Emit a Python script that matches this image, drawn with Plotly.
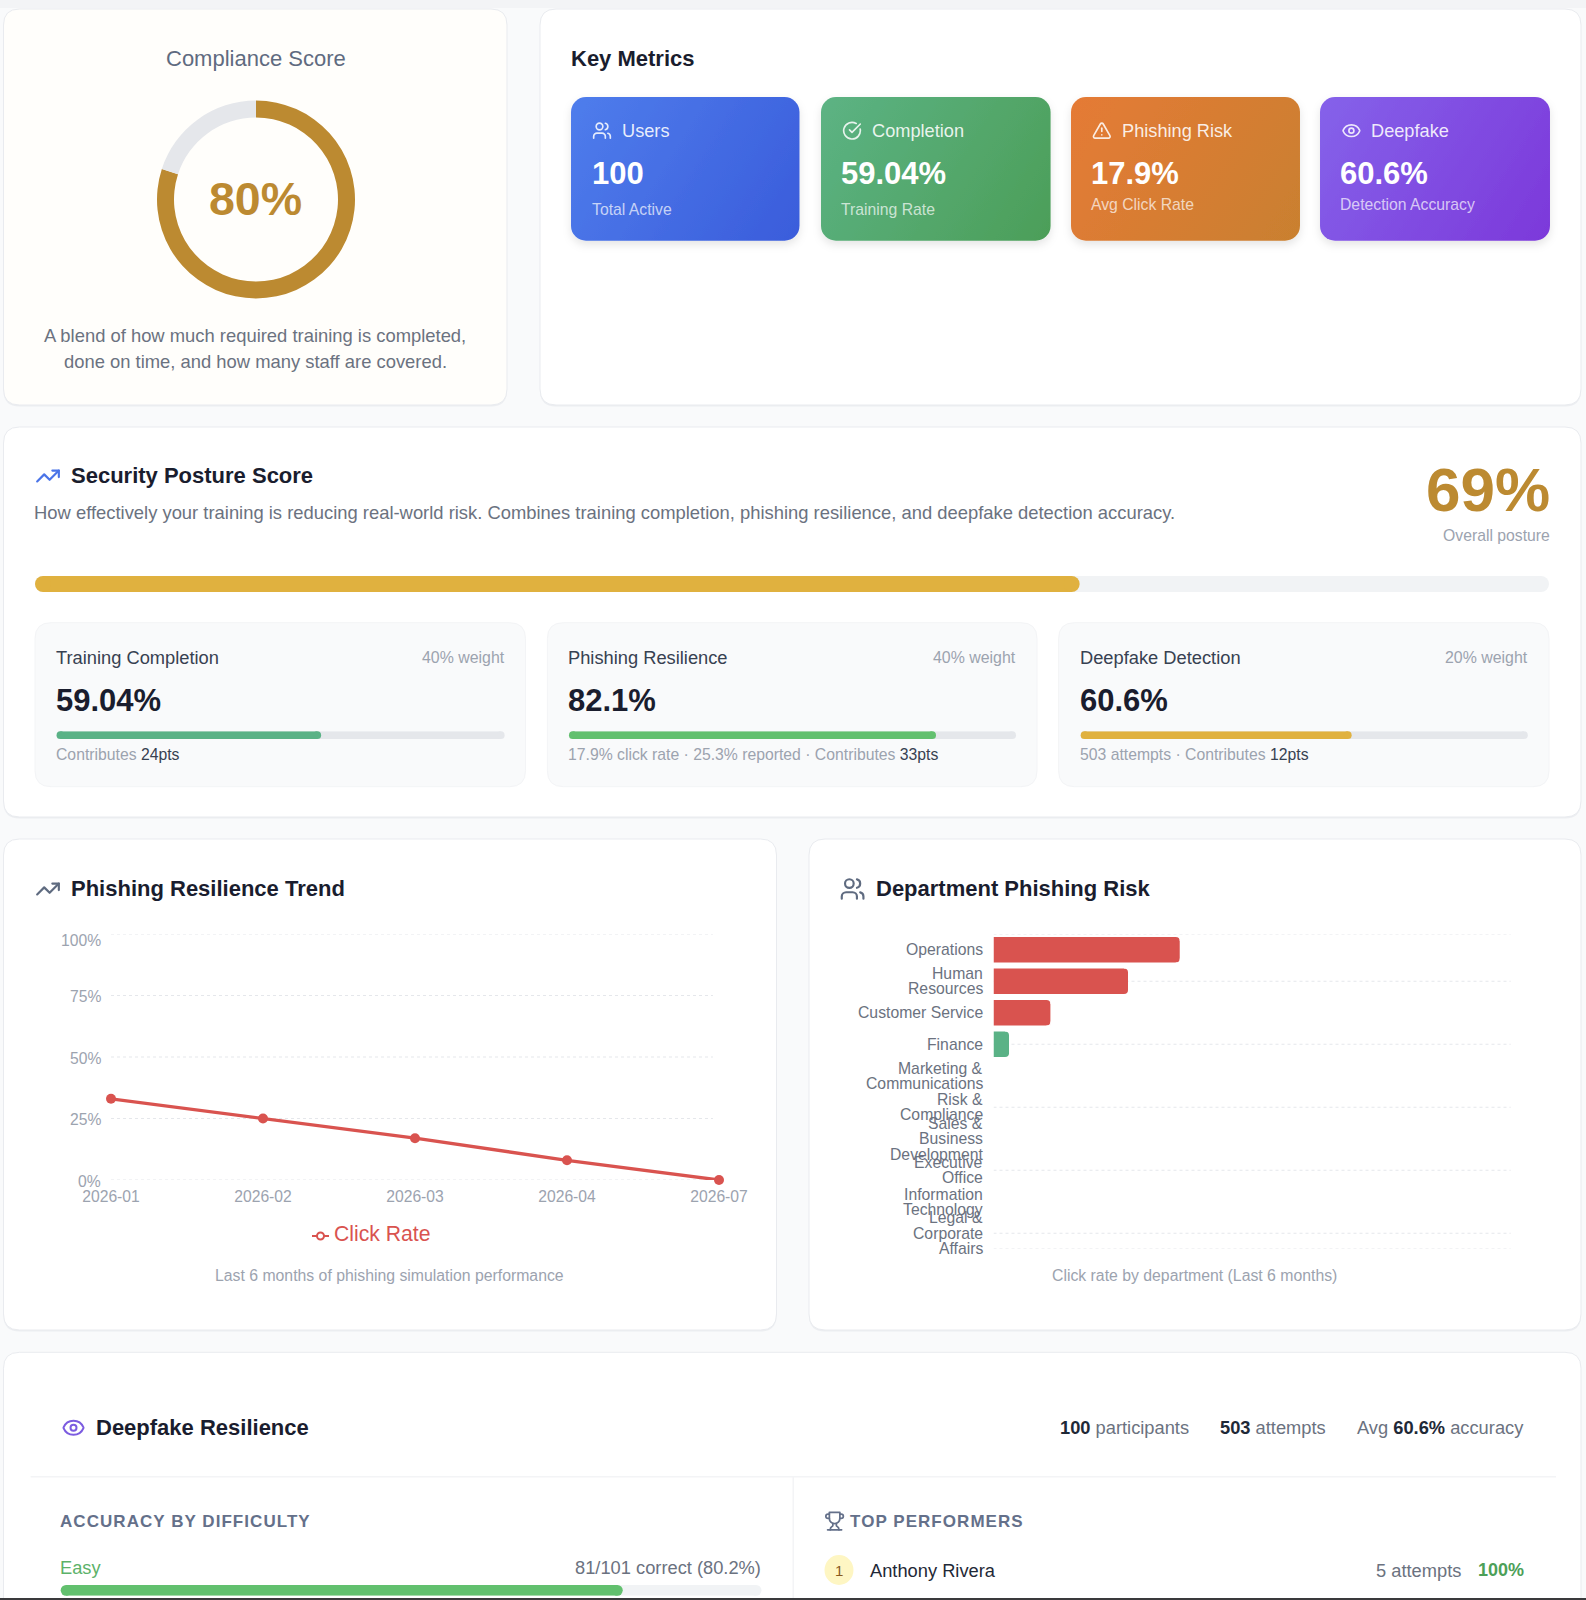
import base64
import plotly.graph_objects as go

W, H = 1586, 1600

# ---------- data ----------
compliance_labels = ["Compliant", "Gap"]
compliance_values = [80, 20]
posture_score = 69
posture_parts = [59.04, 82.1, 60.6]
months = ["2026-01", "2026-02", "2026-03", "2026-04", "2026-07"]
click_rate = [33, 25, 17, 8, 0]
y_ticks = [0, 25, 50, 75, 100]
y_tick_labels = ["0%", "25%", "50%", "75%", "100%"]
y_tick_shift = [-1, -1, -1, -1, -6]
departments = ["Operations", "Human<br>Resources", "Customer Service", "Finance",
               "Marketing &<br>Communications", "Risk &<br>Compliance",
               "Sales &<br>Business<br>Development", "Executive<br>Office",
               "Information<br>Technology", "Legal &<br>Corporate<br>Affairs"]
dept_click_rate = [36, 26, 11, 3, 0, 0, 0, 0, 0, 0]
dept_colors = ["#D9534F", "#D9534F", "#D9534F", "#5AB286", "#5AB286", "#5AB286",
               "#5AB286", "#5AB286", "#5AB286", "#5AB286"]
dept_grid_index = [1, 3, 5, 7, 9]
easy_accuracy = 80.2

# ---------- helpers ----------
FONT = "Liberation Sans"
RED, GOLD, AMBER = "#D9534F", "#BC8A31", "#E0B13F"
INK, BODY, MUTED = "#1A1D2E", "#6B7280", "#9CA3AF"
SMALL, MID = 15.75, 18.3

def px(x):
    return x / W

def py(y):
    return 1 - y / H

shapes, images, annotations = [], [], []

def rrect(x0, y0, x1, y1, r):
    pts = [
        f"M {px(x0 + r)} {py(y0)}", f"L {px(x1 - r)} {py(y0)}",
        f"Q {px(x1)} {py(y0)} {px(x1)} {py(y0 + r)}", f"L {px(x1)} {py(y1 - r)}",
        f"Q {px(x1)} {py(y1)} {px(x1 - r)} {py(y1)}", f"L {px(x0 + r)} {py(y1)}",
        f"Q {px(x0)} {py(y1)} {px(x0)} {py(y1 - r)}", f"L {px(x0)} {py(y0 + r)}",
        f"Q {px(x0)} {py(y0)} {px(x0 + r)} {py(y0)}", "Z",
    ]
    return " ".join(pts)

def card(x0, y0, x1, y1, fill="#FFFFFF", line="#E9EBEF", r=16, shadow=True):
    if shadow:
        shapes.append(dict(type="path", xref="paper", yref="paper", layer="below",
                           path=rrect(x0, y0 + 1.5, x1, y1 + 1.5, r),
                           fillcolor="#ECEEF1", line=dict(width=0)))
    shapes.append(dict(type="path", xref="paper", yref="paper", layer="below",
                       path=rrect(x0, y0, x1, y1, r), fillcolor=fill,
                       line=dict(color=line, width=1)))

def rect(x0, y0, x1, y1, fill):
    shapes.append(dict(type="rect", xref="paper", yref="paper", layer="below",
                       x0=px(x0), x1=px(x1), y0=py(y0), y1=py(y1),
                       fillcolor=fill, line=dict(width=0)))

def txt(x, y, text, size, color, anchor="left", bold=False):
    if anchor == "left":
        x -= 0.7
    annotations.append(dict(
        x=px(x), y=py(y), xref="paper", yref="paper", text=f"<b>{text}</b>" if bold else text,
        showarrow=False, xanchor=anchor, yanchor="middle", borderpad=0, borderwidth=0,
        font=dict(family=FONT, size=size, color=color), align=anchor))

def svg_image(svg, x0, y0, x1, y1):
    uri = "data:image/svg+xml;base64," + base64.b64encode(svg.encode()).decode()
    images.append(dict(source=uri, xref="paper", yref="paper", x=px(x0), y=py(y0),
                       sizex=px(x1) - px(x0), sizey=py(y0) - py(y1),
                       xanchor="left", yanchor="top", sizing="stretch", layer="above"))

ICONS = {
    "users": '<path d="M16 21v-2a4 4 0 0 0-4-4H6a4 4 0 0 0-4 4v2"/><circle cx="9" cy="7" r="4"/><path d="M22 21v-2a4 4 0 0 0-3-3.87"/><path d="M16 3.13a4 4 0 0 1 0 7.75"/>',
    "check": '<path d="M21.801 10A10 10 0 1 1 17 3.335"/><path d="m9 11 3 3L22 4"/>',
    "alert": '<path d="m21.73 18-8-14a2 2 0 0 0-3.48 0l-8 14A2 2 0 0 0 4 21h16a2 2 0 0 0 1.73-3"/><path d="M12 9v4"/><path d="M12 17h.01"/>',
    "eye": '<path d="M2.062 12.348a1 1 0 0 1 0-.696 10.75 10.75 0 0 1 19.876 0 1 1 0 0 1 0 .696 10.75 10.75 0 0 1-19.876 0"/><circle cx="12" cy="12" r="3"/>',
    "trend": '<polyline points="22 7 13.5 15.5 8.5 10.5 2 17"/><polyline points="16 7 22 7 22 13"/>',
    "trophy": '<path d="M6 9H4.5a2.5 2.5 0 0 1 0-5H6"/><path d="M18 9h1.5a2.5 2.5 0 0 0 0-5H18"/><path d="M4 22h16"/><path d="M10 14.66V17c0 .55-.47.98-.97 1.21C7.85 18.75 7 20.24 7 22"/><path d="M14 14.66V17c0 .55.47.98.97 1.21C16.15 18.75 17 20.24 17 22"/><path d="M18 2H6v7a6 6 0 0 0 12 0V2Z"/>',
}

def icon(name, cx, cy, size, color, opacity=1.0):
    svg = (f'<svg xmlns="http://www.w3.org/2000/svg" width="{size * 2}" height="{size * 2}" viewBox="0 0 24 24" '
           f'fill="none" stroke="{color}" stroke-opacity="{opacity}" stroke-width="2" stroke-linecap="round" '
           f'stroke-linejoin="round">{ICONS[name]}</svg>')
    svg_image(svg, cx - size / 2, cy - size / 2, cx + size / 2, cy + size / 2)

def kpi(x0, x1, c0, c1, ic, ic_x, label, lab_x, val, val_x, sub, sub_y):
    y0, y1, pad = 97, 240.7, 14
    w, h = x1 - x0, y1 - y0
    gid = "g" + ic
    svg = (f'<svg xmlns="http://www.w3.org/2000/svg" width="{w + 2 * pad}" height="{h + 2 * pad}" '
           f'viewBox="{-pad} {-pad} {w + 2 * pad} {h + 2 * pad}"><defs>'
           f'<linearGradient id="{gid}" gradientUnits="userSpaceOnUse" x1="0" y1="0" x2="{w}" y2="{h}">'
           f'<stop offset="0" stop-color="{c0}"/><stop offset="1" stop-color="{c1}"/></linearGradient>'
           f'<filter id="s" x="-20%" y="-20%" width="140%" height="140%"><feDropShadow dx="0" dy="4" stdDeviation="4" '
           f'flood-color="#000" flood-opacity="0.10"/></filter></defs>'
           f'<rect x="0" y="0" width="{w}" height="{h}" rx="15" fill="url(#{gid})" filter="url(#s)"/></svg>')
    svg_image(svg, x0 - pad, y0 - pad, x1 + pad, y1 + pad)
    icon(ic, ic_x, 130.7, 20, "#FFFFFF", 0.85)
    txt(lab_x, 130.7, label, 18.2, "rgba(255,255,255,0.88)")
    txt(val_x, 173, val, 31, "#FFFFFF", bold=True)
    txt(val_x, sub_y, sub, SMALL, "rgba(255,255,255,0.70)")

traces = []
axes = {}
axis_id = [2]

def progress(x0, x1, y0, y1, value, color, track):
    """Pill-shaped bar: a thick line with a round marker on each end, on its own 0-100 axis."""
    i = axis_id[0] + 1
    axis_id[0] = i
    dom_x, dom_y = [px(x0), px(x1)], [py(y1), py(y0)]
    axes[f"xaxis{i}"] = dict(domain=dom_x, range=[0, 100], visible=False, fixedrange=True, anchor=f"y{i}", automargin=False)
    axes[f"yaxis{i}"] = dict(domain=dom_y, range=[-0.5, 0.5], visible=False, fixedrange=True, anchor=f"x{i}", automargin=False)
    h = y1 - y0
    cap = (h / 2) / (x1 - x0) * 100
    for v, c in ((100, track), (value, color)):
        traces.append(go.Scatter(x=[cap, v - cap], y=[0, 0], mode="lines+markers", xaxis=f"x{i}", yaxis=f"y{i}",
                                 line=dict(color=c, width=h), marker=dict(color=c, size=h, line=dict(width=0)),
                                 cliponaxis=False, showlegend=False, hoverinfo="skip"))

# ---------- page ----------
rect(0, 0, W, 8, "#F3F4F6")

# Compliance card
card(3.5, 9, 507, 405, fill="#FFFEFB")
txt(256, 58, "Compliance Score", 22, "#5F6B80", "center")
traces.append(go.Pie(labels=compliance_labels, values=compliance_values, hole=82 / 99, sort=False,
                     direction="clockwise", rotation=0, textinfo="none", showlegend=False,
                     marker=dict(colors=[GOLD, "#E5E7EB"], line=dict(width=0)),
                     domain=dict(x=[px(157), px(355)], y=[py(298.5), py(100.5)])))
txt(255, 199, f"{compliance_values[0]}%", 46.5, GOLD, "center", True)
txt(255, 335.7, "A blend of how much required training is completed,", 18.4, BODY, "center")
txt(255, 361.2, "done on time, and how many staff are covered.", 18.4, BODY, "center")

# Key metrics card
card(540, 9, 1581, 405)
txt(572, 58, "Key Metrics", 22, INK, bold=True)
kpi(571, 799.5, "#4F7DEC", "#3A5CDB", "users", 602, "Users", 623, "100", 593, "Total Active", 209.7)
kpi(821, 1050.6, "#5CB384", "#4C9E58", "check", 852, "Completion", 872.7, "59.04%", 842, "Training Rate", 209.7)
kpi(1071, 1300, "#E57A36", "#C9802F", "alert", 1101.8, "Phishing Risk", 1122.7, "17.9%", 1092, "Avg Click Rate", 204.3)
kpi(1320, 1550, "#8562EA", "#7C38DA", "eye", 1351.4, "Deepfake", 1372, "60.6%", 1341, "Detection Accuracy", 204.3)

# Security posture card
card(3.5, 427, 1581, 817)
icon("trend", 48, 476, 26, "#4A74E8")
txt(71.4, 475.6, "Security Posture Score", 22, INK, bold=True)
txt(35, 512.7, "How effectively your training is reducing real-world risk. Combines training completion, "
               "phishing resilience, and deepfake detection accuracy.", 18.4, BODY)
txt(1549.5, 489, f"{posture_score}%", 62, GOLD, "right", True)
txt(1549.5, 535, "Overall posture", SMALL, MUTED, "right")
progress(35, 1549, 576, 592, posture_score, AMBER, "#F1F3F5")

subs = [
    (35, 525.5, 56.6, 504.6, "Training Completion", "40% weight", "#5AB286",
     'Contributes <span style="color:#374151">24pts</span>'),
    (547.4, 1037, 569, 1016, "Phishing Resilience", "40% weight", "#62C06E",
     '17.9% click rate · 25.3% reported · Contributes <span style="color:#374151">33pts</span>'),
    (1058.6, 1549, 1080.7, 1527.8, "Deepfake Detection", "20% weight", AMBER,
     '503 attempts · Contributes <span style="color:#374151">12pts</span>'),
]
value_labels = ["59.04%", "82.1%", "60.6%"]
for (cx0, cx1, tx0, tx1, name, weight, col, foot), v, vl in zip(subs, posture_parts, value_labels):
    card(cx0, 622.7, cx1, 786.7, fill="#F9FAFB", line="#F3F4F6", shadow=False)
    txt(tx0, 657, name, MID, "#374151")
    txt(tx1, 657, weight, 15.9, MUTED, "right")
    txt(tx0, 700.7, vl, 31, INK, bold=True)
    progress(tx0, tx1, 731.3, 739, v, col, "#E5E7EB")
    txt(tx0, 754.3, foot, SMALL, MUTED)

# Trend card
card(3.5, 839, 776.5, 1330)
icon("trend", 48, 889, 26, "#5F6B80")
txt(71.4, 888.4, "Phishing Resilience Trend", 22, INK, bold=True)
traces.append(go.Scatter(x=months, y=click_rate, name="Click Rate", mode="lines+markers",
                         line=dict(color=RED, width=3.3), marker=dict(color=RED, size=10),
                         cliponaxis=False, xaxis="x", yaxis="y", showlegend=False))
grid_style = dict(color="#E5E7EB", width=1, dash="3px,3px")
for t, lab, sh in zip(y_ticks, y_tick_labels, y_tick_shift):
    shapes.append(dict(type="line", xref="x domain", yref="y", x0=0, x1=0.99, y0=t, y1=t,
                       layer="below", line=grid_style))
    annotations.append(dict(x=0, y=t, xref="x domain", yref="y", text=lab, showarrow=False, xanchor="right",
                            yanchor="middle", xshift=-10.5, yshift=sh, borderpad=0, borderwidth=0,
                            font=dict(family=FONT, size=15.7, color=MUTED)))
# legend key and label
shapes.append(dict(type="line", xref="paper", yref="paper", x0=px(312), x1=px(329), y0=py(1236), y1=py(1236),
                   layer="below", line=dict(color=RED, width=2)))
shapes.append(dict(type="circle", xref="paper", yref="paper", x0=px(317), x1=px(324), y0=py(1239.5), y1=py(1232.5),
                   layer="below", fillcolor="#FFFFFF", line=dict(color=RED, width=2)))
txt(334.7, 1233.5, "Click Rate", 21.2, RED)
txt(389.5, 1275.7, "Last 6 months of phishing simulation performance", 15.8, MUTED, "center")

# Department card
card(809, 839, 1581, 1330)
icon("users", 852.6, 889, 26, "#5F6B80")
txt(876.2, 888.4, "Department Phishing Risk", 22, INK, bold=True)
dept_axis = list(range(len(departments)))
BAR_WIDTH = 0.81
traces.append(go.Bar(x=dept_click_rate, y=dept_axis, orientation="h", width=BAR_WIDTH, xaxis="x2", yaxis="y2",
                     marker=dict(color=dept_colors, line=dict(width=0)),
                     showlegend=False, customdata=departments, hovertemplate="%{customdata}: %{x}%<extra></extra>"))
for g in [-0.5] + dept_grid_index + [9.5]:
    shapes.append(dict(type="line", xref="x2", yref="y2", x0=0, x1=100, y0=g, y1=g,
                       layer="below", line=grid_style))
# round the outer corners of the bars
rx, ry = 4 / 517.3 * 100, 4 / 31.5
for i, v in enumerate(dept_click_rate):
    if v:
        top, bot = i - BAR_WIDTH / 2, i + BAR_WIDTH / 2
        for edge, sgn in ((top, 1), (bot, -1)):
            shapes.append(dict(type="path", xref="x2", yref="y2", layer="above", fillcolor="#FFFFFF",
                               line=dict(width=0),
                               path=f"M {v - rx} {edge} Q {v} {edge} {v} {edge + sgn * ry} "
                                    f"L {v + 0.1} {edge + sgn * ry} L {v + 0.1} {edge - sgn * 0.02} "
                                    f"L {v - rx} {edge - sgn * 0.02} Z"))
line_h = 15.3
for i, dept in enumerate(departments):
    parts = dept.split("<br>")
    for j, part in enumerate(parts):
        annotations.append(dict(x=0, y=i, xref="x2", yref="y2", text=part, showarrow=False,
                                xanchor="right", yanchor="middle", xshift=-10.5, borderpad=0, borderwidth=0,
                                yshift=-(j - (len(parts) - 1) / 2) * line_h,
                                font=dict(family=FONT, size=SMALL, color=BODY)))
txt(1194.5, 1275.7, "Click rate by department (Last 6 months)", 15.8, MUTED, "center")

# Deepfake card
card(3.5, 1352.3, 1581, 1640)
icon("eye", 73.5, 1427.7, 24, "#7C5CE0")
txt(97, 1427.4, "Deepfake Resilience", 22, INK, bold=True)
STRONG = '<span style="color:#1F2937"><b>{}</b></span>'
txt(1060.7, 1427.5, STRONG.format("100") + " participants", MID, BODY)
txt(1220.5, 1427.5, STRONG.format("503") + " attempts", MID, BODY)
txt(1524, 1427.5, "Avg " + STRONG.format("60.6%") + " accuracy", MID, BODY, "right")
rect(30.6, 1476, 1556, 1477.5, "#F3F4F6")
rect(792.5, 1477, 794, 1600, "#F3F4F6")
SPACED = '<span style="letter-spacing:1.05px">{}</span>'
txt(60.7, 1521, SPACED.format("ACCURACY BY DIFFICULTY"), 17, "#64708A", bold=True)
txt(60.7, 1567.7, "Easy", MID, "#5CB269")
txt(761, 1567.7, "81/101 correct (80.2%)", MID, BODY, "right")
progress(60.7, 761.5, 1585, 1595.7, easy_accuracy, "#62C06E", "#F1F3F5")
icon("trophy", 834.6, 1521, 21, "#64708A")
txt(850.6, 1521, SPACED.format("TOP PERFORMERS"), 17, "#64708A", bold=True)
shapes.append(dict(type="circle", xref="paper", yref="paper", layer="below",
                   x0=px(824.5), x1=px(853.5), y0=py(1585), y1=py(1555),
                   fillcolor="#FEF6C3", line=dict(width=0)))
txt(839, 1570, "1", 15, "#8A5A1E", "center")
txt(871, 1570.5, "Anthony Rivera", MID, "#1F2937")
txt(1376.5, 1570, "5 attempts", MID, BODY)
txt(1524, 1570, "100%", 18, "#4CA058", "right", True)
rect(0, 1598, W, 1600, "#3A3A3C")

# ---------- figure ----------
fig = go.Figure(data=traces)
fig.update_layout(
    width=W, height=H, autosize=False,
    margin=dict(l=0, r=0, t=0, b=0, autoexpand=False),
    paper_bgcolor="#F9FAFB", plot_bgcolor="rgba(0,0,0,0)",
    font=dict(family=FONT, color=BODY),
    barmode="overlay", shapes=shapes, images=images, annotations=annotations,
    hovermode="closest", showlegend=False,
    xaxis=dict(domain=[px(111), px(719)], type="category", categoryorder="array", categoryarray=months,
               range=[0, len(months) - 1], showgrid=False, zeroline=False, showline=False, anchor="y",
               ticks="", tickfont=dict(family=FONT, size=15.7, color=MUTED), ticklabelstandoff=5,
               fixedrange=True, automargin=False),
    yaxis=dict(domain=[py(1180), py(934)], range=[0, 100], tickvals=y_ticks, showticklabels=False,
               showgrid=False, zeroline=False, showline=False,
               ticks="", anchor="x", fixedrange=True, automargin=False),
    xaxis2=dict(domain=[px(993.5), px(1510.8)], range=[0, 100], visible=False, anchor="y2",
                fixedrange=True, automargin=False),
    yaxis2=dict(domain=[py(1249), py(934)], range=[9.5, -0.5], visible=False, anchor="x2",
                fixedrange=True, automargin=False),
    **axes,
)
fig.write_html("out.html", config=dict(displayModeBar=False),
               post_script="document.body.style.margin='0';document.documentElement.style.overflow='hidden';")
